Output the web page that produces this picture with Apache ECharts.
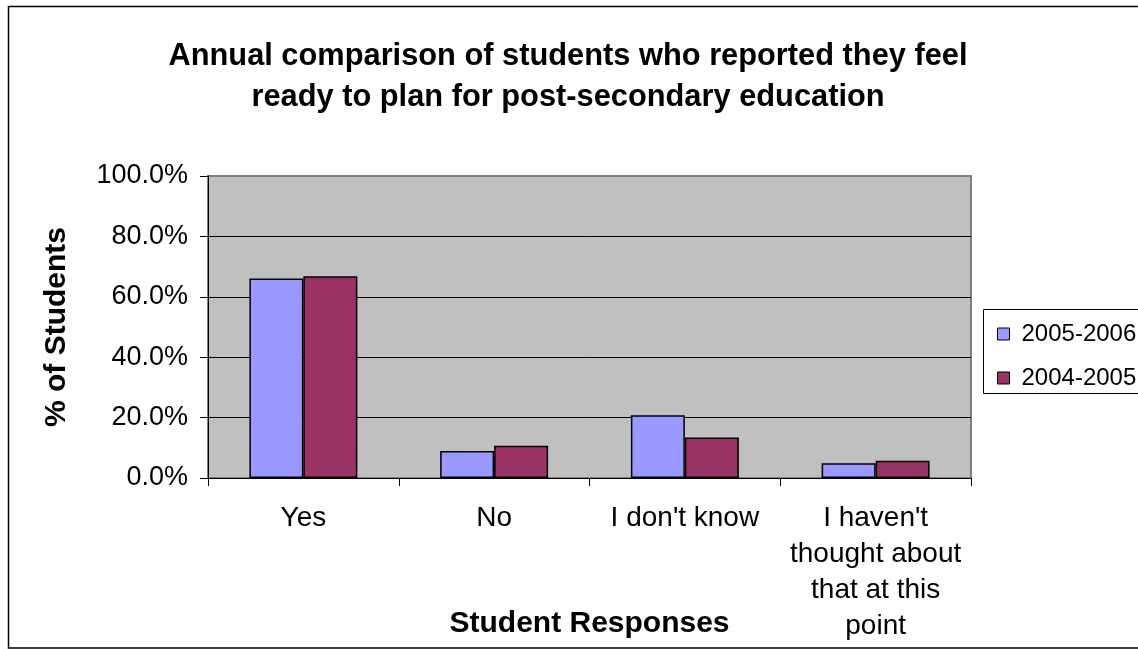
<!DOCTYPE html>
<html>
<head>
<meta charset="utf-8">
<script src="https://cdn.jsdelivr.net/npm/echarts@6/dist/echarts.min.js"></script>
<style>
  html, body { margin: 0; padding: 0; background: #ffffff; }
  #chart { width: 1138px; height: 649px; }
</style>
</head>
<body>
<div id="chart"></div>
<script>
// Survey answers (category axis)
const categories = ['Yes', 'No', "I don't know", "I haven't\nthought about\nthat at this\npoint"];
// Share of students per answer, in percent
const values20052006 = [66.1, 8.9, 20.8, 4.9];
const values20042005 = [66.8, 10.7, 13.4, 5.7];
const seriesNames = ['2005-2006', '2004-2005'];
// Value axis ticks
const yMin = 0;
const yMax = 100;
const yStep = 20;

const FONT = "'Liberation Sans', Arial, sans-serif";

const chart = echarts.init(document.getElementById('chart'), null, { renderer: 'canvas' });

chart.setOption({
  backgroundColor: '#ffffff',
  animation: false,
  textStyle: { fontFamily: FONT },
  title: {
    text: 'Annual comparison of students who reported they feel\nready to plan for post-secondary education',
    left: 563,
    top: 31,
    textAlign: 'center',
    textStyle: { fontFamily: FONT, fontSize: 30.8, fontWeight: 'bold', color: '#000', lineHeight: 41 }
  },
  grid: {
    left: 208, top: 176, right: 167, bottom: 171,
    outerBoundsMode: 'none',
    containLabel: false,
    show: true,
    backgroundColor: '#C0C0C0',
    borderColor: '#808080',
    borderWidth: 2
  },
  legend: {
    orient: 'vertical',
    left: 992,
    top: 316,
    itemWidth: 12,
    itemHeight: 12,
    itemGap: 18,
    icon: 'rect',
    data: seriesNames,
    itemStyle: { borderColor: '#000', borderWidth: 1 },
    textStyle: { fontFamily: FONT, fontSize: 24, color: '#000', lineHeight: 26, padding: [0, 0, 0, 7] }
  },
  xAxis: {
    type: 'category',
    data: categories,
    name: 'Student Responses',
    nameLocation: 'middle',
    nameGap: 131,
    nameMoveOverlap: false,
    nameTextStyle: { fontFamily: FONT, fontSize: 30, fontWeight: 'bold', color: '#000' },
    axisLine: { lineStyle: { color: '#000', width: 1 } },
    axisTick: { show: true, length: 8, lineStyle: { color: '#000' } },
    axisLabel: {
      interval: 0, margin: 22, fontFamily: FONT, fontSize: 28, color: '#000',
      lineHeight: 36, align: 'center'
    },
    splitLine: { show: false }
  },
  yAxis: {
    type: 'value',
    min: yMin, max: yMax, interval: yStep,
    name: '% of Students',
    nameLocation: 'middle',
    nameGap: 136,
    nameMoveOverlap: false,
    nameRotate: 90,
    nameTextStyle: { fontFamily: FONT, fontSize: 30, fontWeight: 'bold', color: '#000' },
    axisLine: { show: true, lineStyle: { color: '#000', width: 1 } },
    axisTick: { show: true, length: 8, lineStyle: { color: '#000' } },
    axisLabel: {
      margin: 20, fontFamily: FONT, fontSize: 27, color: '#000',
      formatter: v => v.toFixed(1) + '%'
    },
    // gridlines are black; the top one blends into the grey plot frame
    splitLine: { show: true, lineStyle: { color: ['#000', '#000', '#000', '#000', '#000', '#808080'], width: 1 } }
  },
  series: [
    {
      name: seriesNames[0], type: 'bar', data: values20052006,
      barWidth: '28.3%', barGap: '0%',
      itemStyle: { color: '#9999FF', borderColor: '#000', borderWidth: 1.5 }
    },
    {
      name: seriesNames[1], type: 'bar', data: values20042005,
      barWidth: '28.3%', barGap: '0%',
      itemStyle: { color: '#993366', borderColor: '#000', borderWidth: 1.5 }
    }
  ],
  graphic: [
    {
      type: 'rect', silent: true, z: 100,
      shape: { x: 8.5, y: 6.5, width: 1200, height: 641.5 },
      style: { fill: 'none', stroke: '#000', lineWidth: 1.5 }
    },
    {
      type: 'rect', silent: true, z: 100,
      shape: { x: 983.5, y: 309.5, width: 200, height: 84 },
      style: { fill: 'none', stroke: '#000', lineWidth: 1 }
    }
  ]
});
</script>
</body>
</html>
